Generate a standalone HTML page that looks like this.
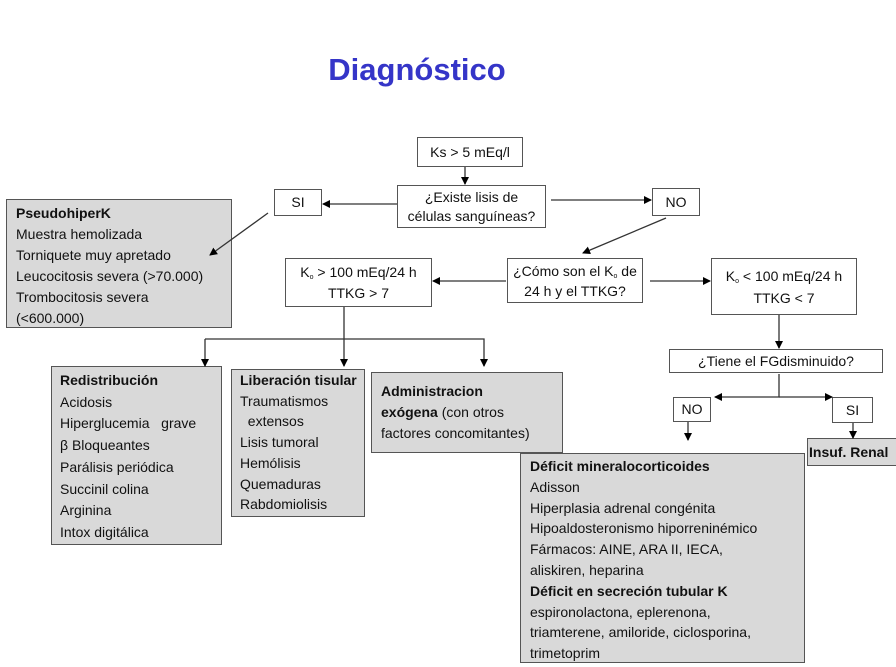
<!DOCTYPE html>
<html><head><meta charset="utf-8"><style>
body{margin:0;width:896px;height:667px;background:#fff;position:relative;overflow:hidden;font-family:"Liberation Sans",sans-serif;color:#111}
.b{position:absolute;border:1.5px solid #555;box-sizing:border-box;background:#fff;font-size:14px;line-height:21px}
.g{background:#d9d9d9}
.c{text-align:center}
.t{position:absolute;left:0;width:834px;top:52px;text-align:center;font-size:31px;font-weight:bold;color:#3535c8}
sub{font-size:7px;vertical-align:baseline;position:relative;top:2px;line-height:0}
svg{z-index:5}
</style></head><body>
<div class="t">Diagnóstico</div>
<div class="b c" style="left:417px;top:137px;width:106px;height:30px;line-height:28px">Ks &gt; 5 mEq/l</div>
<div class="b c" style="left:397px;top:185px;width:149px;height:43px;line-height:19px;padding-top:2px">¿Existe lisis de<br>células sanguíneas?</div>
<div class="b c" style="left:274px;top:189px;width:48px;height:27px;line-height:25px">SI</div>
<div class="b c" style="left:652px;top:188px;width:48px;height:28px;line-height:26px">NO</div>
<div class="b g" style="left:6px;top:199px;width:226px;height:129px;padding:3px 0 0 9px;line-height:21px"><b>PseudohiperK</b><br>Muestra hemolizada<br>Torniquete muy apretado<br>Leucocitosis severa (&gt;70.000)<br>Trombocitosis severa<br>(&lt;600.000)</div>
<div class="b c" style="left:285px;top:258px;width:147px;height:49px;line-height:21px;padding-top:3px">K<sub>o</sub> &gt; 100 mEq/24 h<br>TTKG &gt; 7</div>
<div class="b c" style="left:507px;top:258px;width:136px;height:45px;line-height:20px;padding-top:2px;white-space:nowrap">¿Cómo son el K<sub>o</sub> de<br>24 h y el TTKG?</div>
<div class="b c" style="left:711px;top:258px;width:146px;height:57px;line-height:22px;padding-top:6px">K<sub>o</sub> &lt; 100 mEq/24 h<br>TTKG &lt; 7</div>
<div class="b c" style="left:669px;top:349px;width:214px;height:24px;line-height:22px">¿Tiene el FGdisminuido?</div>
<div class="b c" style="left:673px;top:397px;width:38px;height:25px;line-height:23px">NO</div>
<div class="b c" style="left:832px;top:397px;width:41px;height:26px;line-height:24px">SI</div>
<div class="b g" style="left:807px;top:438px;width:95px;height:28px;line-height:26px;padding-left:1px"><b>Insuf. Renal</b></div>
<div class="b g" style="left:51px;top:366px;width:171px;height:179px;padding:3px 0 0 8px;line-height:21.7px"><b>Redistribución</b><br>Acidosis<br>Hiperglucemia&nbsp;&nbsp; grave<br>β Bloqueantes<br>Parálisis periódica<br>Succinil colina<br>Arginina<br>Intox digitálica</div>
<div class="b g" style="left:231px;top:369px;width:134px;height:148px;padding:0 0 0 8px;line-height:20.7px;white-space:nowrap;overflow:hidden"><b>Liberación tisular</b><br>Traumatismos<br>&nbsp;&nbsp;extensos<br>Lisis tumoral<br>Hemólisis<br>Quemaduras<br>Rabdomiolisis</div>
<div class="b g" style="left:371px;top:372px;width:192px;height:81px;padding:8px 0 0 9px;line-height:21px"><b>Administracion<br>exógena</b> (con otros<br>factores concomitantes)</div>
<div class="b g" style="left:520px;top:453px;width:285px;height:210px;padding:2px 0 0 9px;line-height:20.8px;white-space:nowrap"><b>Déficit mineralocorticoides</b><br>Adisson<br>Hiperplasia adrenal congénita<br>Hipoaldosteronismo hiporreninémico<br>Fármacos: AINE, ARA II, IECA,<br>aliskiren, heparina<br><b>Déficit en secreción tubular K</b><br>espironolactona, eplerenona,<br>triamterene, amiloride, ciclosporina,<br>trimetoprim</div>
<svg width="896" height="667" style="position:absolute;left:0;top:0">
<defs><marker id="a" markerWidth="8" markerHeight="8" refX="7" refY="4" orient="auto" markerUnits="userSpaceOnUse"><path d="M0,0 L8,4 L0,8z" fill="#000"/></marker></defs>
<g stroke="#333" stroke-width="1.3" fill="none">
<line x1="465" y1="167" x2="465" y2="184" marker-end="url(#a)"/>
<line x1="397" y1="204" x2="323" y2="204" marker-end="url(#a)"/>
<line x1="551" y1="200" x2="651" y2="200" marker-end="url(#a)"/>
<line x1="268" y1="213" x2="210" y2="255" marker-end="url(#a)"/>
<line x1="666" y1="218" x2="583" y2="253" marker-end="url(#a)"/>
<line x1="506" y1="281" x2="433" y2="281" marker-end="url(#a)"/>
<line x1="650" y1="281" x2="710" y2="281" marker-end="url(#a)"/>
<line x1="344" y1="307" x2="344" y2="366" marker-end="url(#a)"/>
<polyline points="205,339 484,339 484,366" marker-end="url(#a)"/>
<line x1="205" y1="339" x2="205" y2="366" marker-end="url(#a)"/>
<line x1="779" y1="315" x2="779" y2="348" marker-end="url(#a)"/>
<polyline points="779,374 779,397 715,397" marker-end="url(#a)"/>
<line x1="779" y1="397" x2="832" y2="397" marker-end="url(#a)"/>
<line x1="688" y1="422" x2="688" y2="440" marker-end="url(#a)"/>
<line x1="853" y1="423" x2="853" y2="438" marker-end="url(#a)"/>
</g></svg>
</body></html>
